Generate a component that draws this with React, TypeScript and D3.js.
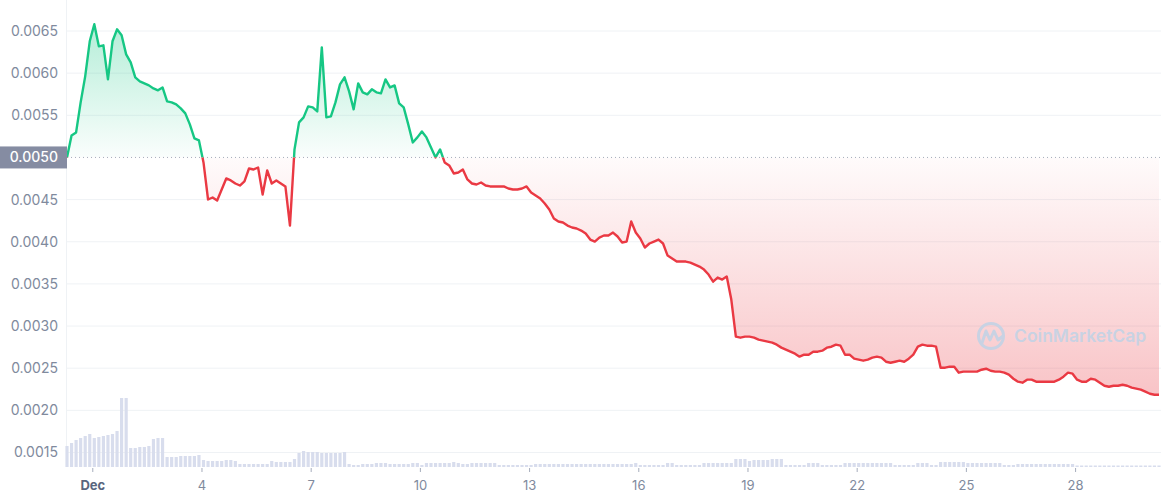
import React, { useEffect, useRef } from "react";
import * as d3 from "d3";

// 3-hourly samples starting Nov 30 07:00 UTC
const startTime = Date.UTC(2022, 10, 30, 7);
const stepHours = 3;

const prices = [
  0.005, 0.005261, 0.005297, 0.005653, 0.005962, 0.006378, 0.00658, 0.006318, 0.00633, 0.005926,
  0.006378, 0.00652, 0.006449, 0.006223, 0.006128, 0.00595, 0.005903, 0.005879, 0.005855, 0.005819,
  0.005796, 0.005831, 0.005665, 0.005653, 0.005629, 0.005582, 0.005523, 0.005392, 0.005226, 0.005202,
  0.004941, 0.004501, 0.004525, 0.004489, 0.00462, 0.004751, 0.004727, 0.004691, 0.004667, 0.004715,
  0.004869, 0.004857, 0.004881, 0.004561, 0.004846, 0.004691, 0.004727, 0.004691, 0.004656, 0.004192,
  0.005095, 0.005416, 0.005475, 0.005606, 0.005594, 0.005546, 0.006306, 0.005475, 0.005487, 0.005653,
  0.005867, 0.00595, 0.005784, 0.00557, 0.005879, 0.005772, 0.005748, 0.005808, 0.005772, 0.00576,
  0.005926, 0.005831, 0.005855, 0.005641, 0.005594, 0.005392, 0.005178, 0.005238, 0.005309, 0.005238,
  0.005119, 0.005, 0.005095, 0.004941, 0.004905, 0.00481, 0.004822, 0.004857, 0.004739, 0.004691,
  0.004679, 0.004703, 0.004667, 0.004656, 0.004656, 0.004656, 0.004656, 0.004632, 0.00462, 0.00462,
  0.004632, 0.004656, 0.004584, 0.004549, 0.004513, 0.004454, 0.004382, 0.004276, 0.00424, 0.004228,
  0.004192, 0.004169, 0.004157, 0.004133, 0.004097, 0.004026, 0.004002, 0.00405, 0.004074, 0.004074,
  0.004109, 0.004062, 0.003991, 0.004002, 0.00424, 0.004109, 0.004038, 0.003931, 0.003979, 0.004002,
  0.004026, 0.003979, 0.003836, 0.003801, 0.003765, 0.003765, 0.003765, 0.003753, 0.003729, 0.003706,
  0.00367, 0.003611, 0.003527, 0.003575, 0.003551, 0.003587, 0.003314, 0.002874, 0.002862, 0.002874,
  0.002874, 0.002862, 0.002839, 0.002827, 0.002815, 0.002803, 0.002779, 0.002744, 0.00272, 0.002696,
  0.002672, 0.002637, 0.00266, 0.00266, 0.002696, 0.002696, 0.002708, 0.002744, 0.002755, 0.002779,
  0.002767, 0.00266, 0.00266, 0.002613, 0.002601, 0.002589, 0.002601, 0.002625, 0.002637, 0.002625,
  0.002577, 0.002565, 0.002577, 0.002589, 0.002577, 0.002613, 0.00266, 0.002755, 0.002779, 0.002767,
  0.002767, 0.002755, 0.002506, 0.002506, 0.002518, 0.002518, 0.002447, 0.002459, 0.002459, 0.002459,
  0.002459, 0.002482, 0.002494, 0.00247, 0.002459, 0.002459, 0.002447, 0.002423, 0.002375, 0.00234,
  0.002328, 0.002364, 0.002364, 0.00234, 0.00234, 0.00234, 0.00234, 0.00234, 0.002364, 0.002399,
  0.002447, 0.002435, 0.002364, 0.00234, 0.00234, 0.002375, 0.002364, 0.002328, 0.002292, 0.00228,
  0.002292, 0.002292, 0.002304, 0.002292, 0.002269, 0.002257, 0.002245, 0.002221, 0.002197, 0.002185,
  0.002185,
];

// relative volume, same 3-hourly grid
const volumes = [
  21, 24, 27, 29, 31, 33, 29, 30, 31, 32, 33, 36, 69, 69, 19, 19, 20, 20, 21, 28,
  29, 29, 10, 10, 10, 11, 11, 11, 11, 12, 7, 6, 6, 6, 6, 7, 7, 6, 3, 3,
  3, 3, 3, 3, 3, 6, 5, 5, 5, 5, 8, 14, 16, 15, 15, 15, 14, 14, 14, 14,
  14, 15, 3, 2, 2, 3, 3, 3, 4, 4, 4, 3, 3, 3, 3, 3, 4, 4, 2, 4,
  4, 4, 4, 4, 4, 5, 4, 3, 3, 4, 4, 4, 4, 4, 4, 2, 2, 2, 2, 2,
  2, 2, 2, 3, 3, 3, 3, 3, 3, 3, 3, 3, 3, 3, 3, 3, 3, 3, 3, 3,
  3, 3, 3, 3, 3, 4, 2, 2, 2, 2, 2, 2, 4, 4, 2, 2, 2, 2, 2, 2,
  4, 4, 4, 4, 4, 4, 4, 8, 8, 8, 6, 7, 7, 7, 7, 8, 8, 8, 2, 2,
  2, 2, 2, 4, 4, 4, 2, 2, 2, 2, 2, 4, 4, 4, 4, 4, 4, 4, 4, 4,
  4, 4, 2, 2, 2, 2, 2, 4, 4, 4, 2, 2, 5, 5, 5, 5, 5, 5, 4, 4,
  4, 4, 4, 4, 4, 4, 2, 2, 2, 3, 3, 3, 3, 3, 3, 3, 3, 3, 3, 3,
  3, 3, 1.5, 1.5, 1.5, 1.5, 1.5, 1.5, 1.5, 1.5, 1.5, 1.5, 1.5, 1.5, 1.5, 1.5, 1.5, 1.5, 1.5, 1.5,
  1.5,
];

const yTicks = [0.0015, 0.002, 0.0025, 0.003, 0.0035, 0.004, 0.0045, 0.005, 0.0055, 0.006, 0.0065];
const xTickDays = [1, 4, 7, 10, 13, 16, 19, 22, 25, 28];
const xTickLabels = ["Dec", "4", "7", "10", "13", "16", "19", "22", "25", "28"];

const GREEN = "#16c784";
const RED = "#ea3943";
const LABEL = "#808a9d";
const FONT = "Inter, 'Noto Sans', sans-serif";

type Point = { date: Date; value: number };

const PriceChart: React.FC = () => {
  const svgRef = useRef<SVGSVGElement | null>(null);

  useEffect(() => {
    if (!svgRef.current) return;

    const data: Point[] = prices.map((v, i) => ({
      date: new Date(startTime + i * stepHours * 3600e3),
      value: v,
    }));
    const base = prices[0];

    const width = 1161;
    const height = 500;
    const marginLeft = 67;
    const plotRight = 1159;
    const volBottom = 467;

    const x = d3
      .scaleUtc()
      .domain([data[0].date, data[data.length - 1].date])
      .range([marginLeft, plotRight]);

    const y = d3.scaleLinear().domain([0.0015, 0.0065]).range([452.5, 31]);
    const vy = d3.scaleLinear().domain([0, 70]).range([volBottom, volBottom - 70]);

    const svg = d3
      .select(svgRef.current)
      .attr("viewBox", [0, 0, width, height])
      .attr("width", width)
      .attr("height", height)
      .style("font-family", FONT);

    const defs = svg.append("defs");
    const yb = y(base);
    defs.append("clipPath").attr("id", "clip-up")
      .append("rect").attr("x", marginLeft).attr("y", 0)
      .attr("width", width - marginLeft).attr("height", yb);
    defs.append("clipPath").attr("id", "clip-down")
      .append("rect").attr("x", marginLeft).attr("y", yb)
      .attr("width", width - marginLeft).attr("height", height - yb);

    const gUp = defs.append("linearGradient").attr("id", "grad-up")
      .attr("gradientUnits", "userSpaceOnUse")
      .attr("x1", 0).attr("x2", 0)
      .attr("y1", y(d3.max(prices)!)).attr("y2", yb);
    gUp.append("stop").attr("offset", 0).attr("stop-color", GREEN).attr("stop-opacity", 0.32);
    gUp.append("stop").attr("offset", 1).attr("stop-color", GREEN).attr("stop-opacity", 0.02);

    const gDown = defs.append("linearGradient").attr("id", "grad-down")
      .attr("gradientUnits", "userSpaceOnUse")
      .attr("x1", 0).attr("x2", 0)
      .attr("y1", yb).attr("y2", y(d3.min(prices)!));
    gDown.append("stop").attr("offset", 0).attr("stop-color", RED).attr("stop-opacity", 0.02);
    gDown.append("stop").attr("offset", 1).attr("stop-color", RED).attr("stop-opacity", 0.3);

    // grid
    svg.append("g")
      .selectAll("line")
      .data(yTicks.filter((t) => Math.abs(t - base) > 1e-9))
      .join("line")
      .attr("x1", marginLeft).attr("x2", width)
      .attr("y1", (d) => y(d)).attr("y2", (d) => y(d))
      .attr("stroke", "#eff2f5");
    svg.append("line")
      .attr("x1", marginLeft - 0.5).attr("x2", marginLeft - 0.5)
      .attr("y1", 0).attr("y2", volBottom)
      .attr("stroke", "#eff2f5");

    // y labels
    svg.append("g")
      .selectAll("text")
      .data(yTicks.filter((t) => Math.abs(t - base) > 1e-9))
      .join("text")
      .attr("x", 58).attr("y", (d) => y(d))
      .attr("dy", "0.35em")
      .attr("text-anchor", "end")
      .attr("font-size", 14)
      .attr("fill", LABEL)
      .text((d) => d.toFixed(4));

    // volume bars
    const step = x(data[1].date) - x(data[0].date);
    svg.append("g")
      .selectAll("rect")
      .data(volumes)
      .join("rect")
      .attr("x", (_, i) => x(data[i].date) - step * 0.35)
      .attr("width", step * 0.7)
      .attr("y", (d) => vy(d))
      .attr("height", (d) => volBottom - vy(d))
      .attr("fill", "#d8dded");

    // areas
    const area = d3.area<Point>()
      .x((d) => x(d.date))
      .y0(yb)
      .y1((d) => y(d.value));
    svg.append("path").datum(data).attr("d", area)
      .attr("fill", "url(#grad-up)").attr("clip-path", "url(#clip-up)");
    svg.append("path").datum(data).attr("d", area)
      .attr("fill", "url(#grad-down)").attr("clip-path", "url(#clip-down)");

    // watermark
    const wmColor = "#c8d2e3";
    const wm = svg.append("g").attr("fill", "none").attr("stroke", wmColor);
    wm.append("circle").attr("cx", 991).attr("cy", 336).attr("r", 12.5).attr("stroke-width", 3);
    wm.append("path")
      .attr("d", "M982,343 L986,331 L990,340 L994,331 L998,340 L1003,336")
      .attr("stroke-width", 3).attr("stroke-linejoin", "round").attr("stroke-linecap", "round");
    svg.append("text")
      .attr("x", 1014).attr("y", 342)
      .attr("font-size", 17.5).attr("font-weight", 600)
      .attr("fill", wmColor)
      .text("CoinMarketCap");

    // baseline
    svg.append("line")
      .attr("x1", marginLeft).attr("x2", width)
      .attr("y1", yb).attr("y2", yb)
      .attr("stroke", "#a6adbc")
      .attr("stroke-width", 1)
      .attr("stroke-dasharray", "1,3");

    // lines
    const line = d3.line<Point>().x((d) => x(d.date)).y((d) => y(d.value));
    svg.append("path").datum(data).attr("d", line)
      .attr("fill", "none").attr("stroke", GREEN).attr("stroke-width", 2.4)
      .attr("stroke-linejoin", "round").attr("clip-path", "url(#clip-up)");
    svg.append("path").datum(data).attr("d", line)
      .attr("fill", "none").attr("stroke", RED).attr("stroke-width", 2.4)
      .attr("stroke-linejoin", "round").attr("clip-path", "url(#clip-down)");

    // base label
    svg.append("rect")
      .attr("x", 0).attr("y", yb - 11).attr("width", marginLeft).attr("height", 22)
      .attr("fill", "#858ca2");
    svg.append("text")
      .attr("x", 58).attr("y", yb).attr("dy", "0.35em")
      .attr("text-anchor", "end").attr("font-size", 14).attr("font-weight", 500)
      .attr("fill", "#ffffff")
      .text(base.toFixed(4));

    // x axis
    const tickDates = xTickDays.map((d) => new Date(Date.UTC(2022, 11, d)));
    const gx = svg.append("g");
    gx.selectAll("line")
      .data(tickDates)
      .join("line")
      .attr("x1", (d) => x(d)).attr("x2", (d) => x(d))
      .attr("y1", volBottom + 1).attr("y2", volBottom + 5)
      .attr("stroke", "#a6adbc");
    gx.selectAll("text")
      .data(tickDates)
      .join("text")
      .attr("x", (d) => x(d)).attr("y", 490)
      .attr("text-anchor", "middle")
      .attr("font-size", 13)
      .attr("font-weight", (_, i) => (i === 0 ? 700 : 400))
      .attr("fill", (_, i) => (i === 0 ? "#58667e" : LABEL))
      .text((_, i) => xTickLabels[i]);

    return () => {
      svg.selectAll("*").remove();
    };
  }, []);

  return <svg ref={svgRef} style={{ position: "absolute", left: 0, top: 0 }}></svg>;
};

export default function App() {
  return <PriceChart />;
}
